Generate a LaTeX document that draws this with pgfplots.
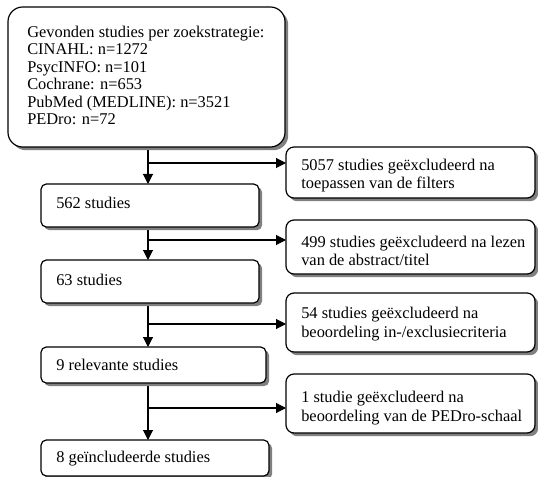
\documentclass[border=0pt]{standalone}
\usepackage{fontspec}
\setmainfont{Liberation Serif}
\usepackage{pgfplots}
\pgfplotsset{compat=1.18}
\usetikzlibrary{arrows.meta}
\definecolor{shadowgray}{RGB}{128,128,128}
\newcommand{\flowbox}[5]{%
  \fill[shadowgray, rounded corners=#5, xshift=2.4pt, yshift=-2.4pt] (#1,#2) rectangle (#3,#4);
  \draw[fill=white, line width=0.9pt, rounded corners=#5] (#1,#2) rectangle (#3,#4);}
\newcommand{\txt}[3]{\node[anchor=base west, inner sep=0pt, font=\fontsize{12.3}{14}\selectfont] at (#1,#2) {#3};}
\tikzset{arr/.style={line width=0.8pt, -{Triangle[length=7.5pt,width=7.5pt]}}}
\begin{document}
\begin{tikzpicture}
\useasboundingbox (0,0) rectangle (403.5pt,357.75pt);
\begin{axis}[at={(0,0)}, anchor=south west, scale only axis,
  width=403.5pt, height=357.75pt,
  xmin=0, xmax=538, ymin=0, ymax=477, y dir=reverse,
  hide axis, clip=false]
% connectors
\draw[arr] (148,147) -- (148,184);
\draw[arr] (148,227) -- (148,260);
\draw[arr] (148,303) -- (148,347);
\draw[arr] (148,383) -- (148,440);
\draw[arr] (148,163) -- (286,163);
\draw[arr] (148,240) -- (286,240);
\draw[arr] (148,324) -- (286,324);
\draw[arr] (148,408) -- (286,408);
% main boxes
\flowbox{8}{7}{285}{147}{11pt}
\flowbox{41}{184}{259}{227}{4pt}
\flowbox{41}{260}{259}{303}{4pt}
\flowbox{41}{347}{266}{383}{4pt}
\flowbox{41}{440}{269}{476}{4pt}
% side boxes
\flowbox{286}{147}{535}{198}{6pt}
\flowbox{286}{220}{535}{274}{6pt}
\flowbox{286}{293}{535}{352}{6pt}
\flowbox{286}{374}{535}{433}{6pt}
% texts
\txt{27}{37.5}{Gevonden studies per zoekstrategie:}
\txt{27}{55}{CINAHL: n=1272}
\txt{27}{72.5}{PsycINFO: n=101}
\txt{27}{90}{Cochrane: n=653}
\txt{27}{107.5}{PubMed (MEDLINE): n=3521}
\txt{27}{125}{PEDro: n=72}
\txt{56}{209}{562 studies}
\txt{56}{285}{63 studies}
\txt{56}{370}{9 relevante studies}
\txt{56}{462}{8 geïncludeerde studies}
\txt{301}{171}{5057 studies geëxcludeerd na}
\txt{301}{189}{toepassen van de filters}
\txt{301}{247}{499 studies geëxcludeerd na lezen}
\txt{301}{265}{van de abstract/titel}
\txt{301}{318}{54 studies geëxcludeerd na}
\txt{301}{337}{beoordeling in-/exclusiecriteria}
\txt{301}{402}{1 studie geëxcludeerd na}
\txt{301}{421}{beoordeling van de PEDro-schaal}
\end{axis}
\end{tikzpicture}
\end{document}
